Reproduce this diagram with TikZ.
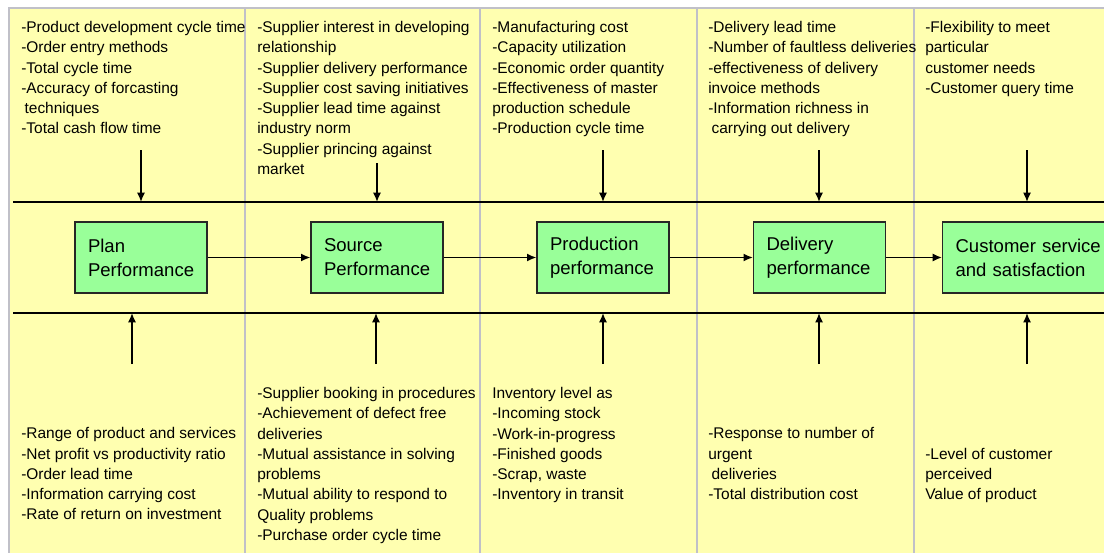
\documentclass[tikz,border=0pt]{standalone}
\usepackage{fontspec}
\setmainfont{Liberation Sans}
\usetikzlibrary{arrows.meta,positioning}

\definecolor{notepad}{HTML}{FFFFB0}
\definecolor{stagegreen}{HTML}{99FF99}
\definecolor{divider}{HTML}{C0C0C8}

\begin{document}
\begin{tikzpicture}[
    x=0.75pt, y=-0.75pt,
    >={Latex[length=7pt,width=6pt]},
    font=\fontsize{11.6}{15.2}\selectfont,
    stage/.style={
		rectangle,
		draw=black!85,
		line width=0.9pt,
		fill=stagegreen,
		align=left,
		text width=79.5pt,
		inner xsep=9.75pt,
		minimum height=53.25pt,
		font=\fontsize{13.9}{18}\selectfont
	},
	measure/.style={
		anchor=north west,
		inner sep=0pt,
		align=left
	},
	feed/.style={->, line width=1.2pt},
	rail/.style={line width=1.5pt},
	divide/.style={draw=divider, line width=1.5pt}
  ]
    % page and background
  \useasboundingbox (0,0) rectangle (1104,553);
  \clip (0,0) rectangle (1104,553);
  \fill[white] (0,0) rectangle (1104,553);
  \fill[notepad] (9,8) rectangle (1104,553);
  \draw[divide] (9,553) -- (9,8) -- (1104,8);
  \draw[divide] (245,8) -- (245,553);
  \draw[divide] (480,8) -- (480,553);
  \draw[divide] (697,8) -- (697,553);
  \draw[divide] (914,8) -- (914,553);

  \draw[rail] (13,202) -- (1104,202);
  \draw[rail] (13,313) -- (1104,313);

    % the stages
  \node [stage] (plan) at (141,257.5) {Plan\\Performance};
  \node [stage] (source) at (377,257.5) {Source\\Performance};
  \node [stage] (production) at (603,257.5) {Production\\performance};
  \node [stage] (delivery) at (819.5,257.5) {Delivery\\performance};
  \node [stage, text width=120pt, anchor=west] (customer) at (942,257.5)
  {Customer service\\and satisfaction};

  \draw [feed] (plan) -- (source);
  \draw [feed] (source) -- (production);
  \draw [feed] (production) -- (delivery);
  \draw [feed] (delivery) -- (customer);

    % measures above the stages
  \node [measure] (planup) at (21,21)
 {%
  -Product development cycle time\\
  -Order entry methods\\
  -Total cycle time\\
  -Accuracy of forcasting\\
  \hspace{2.5pt}techniques\\
  -Total cash flow time
 };

  \node [measure] (sourceup) at (257,21)
 {%
  -Supplier interest in developing\\
  relationship\\
  -Supplier delivery performance\\
  -Supplier cost saving initiatives\\
  -Supplier lead time against\\
  industry norm\\
  -Supplier princing against\\
  market
 };

  \node [measure] (productionup) at (492,21)
 {%
  -Manufacturing cost\\
  -Capacity utilization\\
  -Economic order quantity\\
  -Effectiveness of master\\
  production schedule\\
  -Production cycle time
 };

  \node [measure] (deliveryup) at (708,21)
 {%
  -Delivery lead time\\
  -Number of faultless deliveries\\
  -effectiveness of delivery\\
  invoice methods\\
  -Information richness in\\
  \hspace{2.5pt}carrying out delivery
 };

  \node [measure] (customerup) at (925,21)
 {%
  -Flexibility to meet\\
  particular\\
  customer needs\\
  -Customer query time
 };

    % measures below the stages
  \node [measure] (plandown) at (21,427.3)
 {%
  -Range of product and services\\
  -Net profit vs productivity ratio\\
  -Order lead time\\
  -Information carrying cost\\
  -Rate of return on investment
 };

  \node [measure] (sourcedown) at (257,387)
 {%
  -Supplier booking in procedures\\
  -Achievement of defect free\\
  deliveries\\
  -Mutual assistance in solving\\
  problems\\
  -Mutual ability to respond to\\
  Quality problems\\
  -Purchase order cycle time
 };

  \node [measure] (productiondown) at (492,387)
 {%
  Inventory level as\\
  -Incoming stock\\
  -Work-in-progress\\
  -Finished goods\\
  -Scrap, waste\\
  -Inventory in transit
 };

  \node [measure] (deliverydown) at (708,427.3)
 {%
  -Response to number of\\
  urgent\\
  \hspace{2.5pt}deliveries\\
  -Total distribution cost
 };

  \node [measure] (customerdown) at (925,447.6)
 {%
  -Level of customer\\
  perceived\\
  Value of product
 };

    % feeding arrows
  \coordinate (planin) at (141,150);
  \coordinate (planhit) at (141,202);
  \coordinate (sourcein) at (377,163);
  \coordinate (sourcehit) at (377,202);
  \coordinate (productionin) at (603,150);
  \coordinate (productionhit) at (603,202);
  \coordinate (deliveryin) at (819,150);
  \coordinate (deliveryhit) at (819,202);
  \coordinate (customerin) at (1027,150);
  \coordinate (customerhit) at (1027,202);

  \coordinate (planout) at (132,364);
  \coordinate (planlow) at (132,313);
  \coordinate (sourceout) at (376,364);
  \coordinate (sourcelow) at (376,313);
  \coordinate (productionout) at (603,364);
  \coordinate (productionlow) at (603,313);
  \coordinate (deliveryout) at (819,364);
  \coordinate (deliverylow) at (819,313);
  \coordinate (customerout) at (1027,364);
  \coordinate (customerlow) at (1027,313);

  \draw [feed] (planin) -- (planhit);
  \draw [feed] (sourcein) -- (sourcehit);
  \draw [feed] (productionin) -- (productionhit);
  \draw [feed] (deliveryin) -- (deliveryhit);
  \draw [feed] (customerin) -- (customerhit);

  \draw [feed] (planout) -- (planlow);
  \draw [feed] (sourceout) -- (sourcelow);
  \draw [feed] (productionout) -- (productionlow);
  \draw [feed] (deliveryout) -- (deliverylow);
  \draw [feed] (customerout) -- (customerlow);

\end{tikzpicture}
\end{document}
